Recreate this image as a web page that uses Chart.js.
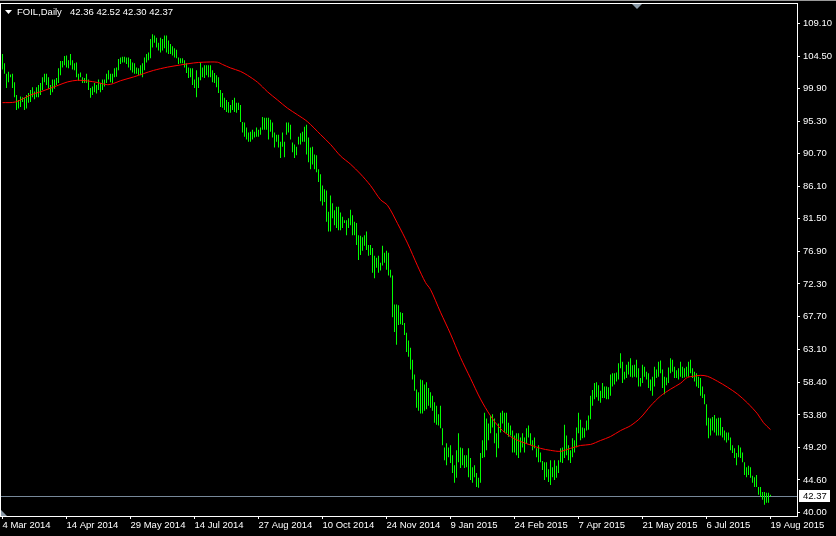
<!DOCTYPE html>
<html>
<head>
<meta charset="utf-8">
<script src="https://cdn.jsdelivr.net/npm/chart.js@4.4.1/dist/chart.umd.min.js"></script>
<style>
  html, body { margin: 0; padding: 0; background: #000; }
  #wrap { width: 836px; height: 536px; }
</style>
</head>
<body>
<div id="wrap"><canvas id="chart" width="836" height="536"></canvas></div>
<script>
// FOIL daily bars, 4 Mar 2014 .. 19 Aug 2015 (one value per trading day)
const highs = [
  104.8,103.5,102.0,102.3,101.9,102.0,100.8,99.0,98.3,98.8,98.7,98.6,99.0,99.3,99.7,100.1,
  99.5,100.1,100.4,100.7,101.5,102.0,102.0,101.5,100.4,101.2,101.2,101.4,102.8,103.8,103.8,104.5,
  104.6,103.9,104.8,103.9,103.5,103.6,102.0,102.2,101.5,101.4,102.0,101.2,100.0,100.2,100.7,100.4,
  101.2,100.7,101.2,101.2,102.0,102.5,102.0,102.0,102.8,102.9,104.1,104.3,104.4,104.4,104.3,104.3,
  104.1,103.6,103.5,102.9,102.8,103.2,103.5,104.3,104.8,105.0,106.9,107.6,107.4,107.1,106.4,107.1,
  106.9,107.4,107.4,106.7,106.2,105.9,105.6,105.4,104.3,104.2,104.2,103.9,103.5,102.9,102.8,102.8,
  101.2,102.5,101.5,103.6,102.9,103.2,103.2,103.2,103.2,102.5,102.1,101.8,101.5,99.7,99.3,98.6,
  98.3,98.0,97.6,98.3,98.6,97.9,97.9,97.6,95.2,95.1,94.4,93.7,93.8,94.1,93.8,94.4,
  94.1,94.4,95.9,95.8,95.8,95.8,95.5,95.1,93.7,93.4,93.4,92.4,93.7,92.4,95.1,95.1,
  94.8,92.3,92.0,91.7,93.1,93.6,93.8,94.5,94.8,93.0,91.6,91.7,90.6,90.5,88.5,87.8,
  86.2,85.7,85.5,82.5,84.8,83.7,82.7,83.2,83.2,82.4,81.8,81.3,81.3,81.6,82.8,82.0,
  81.1,80.9,79.2,79.1,78.9,79.2,79.7,77.8,77.8,77.4,76.3,76.0,76.3,75.3,77.7,76.7,
  77.0,76.7,74.3,73.5,69.4,69.4,69.3,68.3,68.2,66.8,65.4,64.3,63.3,61.6,59.5,57.4,
  57.0,58.8,58.7,58.1,58.4,57.6,57.0,56.5,55.6,55.1,53.9,55.1,51.9,49.2,49.8,49.2,
  49.5,48.1,46.7,48.8,51.2,49.2,49.1,48.1,48.1,49.1,47.7,46.4,46.7,45.6,44.9,48.4,
  50.2,54.1,53.3,52.6,53.7,53.9,53.3,51.2,52.6,54.1,54.4,54.1,54.1,52.7,52.3,51.6,
  50.9,51.2,51.2,50.6,51.2,50.6,51.9,52.3,51.2,50.2,50.6,49.1,49.5,48.5,47.3,47.1,
  47.1,46.1,47.4,46.4,47.4,46.6,47.4,49.1,49.2,52.4,50.9,49.5,48.8,50.5,50.2,52.0,
  54.1,53.1,52.0,51.9,53.0,53.7,56.5,57.3,58.3,58.4,58.0,57.2,58.3,57.8,57.8,57.7,
  59.5,59.7,59.7,59.8,61.1,62.5,61.3,59.9,60.9,61.3,61.8,60.8,60.9,61.6,60.4,59.0,
  60.9,60.6,59.9,59.7,58.8,59.2,60.6,60.2,61.3,61.5,60.2,59.2,59.1,60.5,61.8,61.6,
  60.6,60.1,60.4,61.3,60.6,60.4,60.6,61.3,61.6,60.4,59.9,59.7,59.2,59.0,57.8,56.7,
  55.3,53.4,53.3,53.5,53.8,53.3,53.4,53.4,52.1,51.6,51.3,51.3,50.6,49.5,49.1,48.4,
  49.5,49.2,48.5,47.1,46.4,46.6,46.4,45.2,45.0,45.3,43.6,43.6,42.9,42.9,42.8,42.8,
  42.52
];
const lows = [
  102.6,102.0,100.0,100.8,101.5,100.0,98.7,96.9,97.1,97.3,98.0,96.9,97.1,97.9,98.0,98.7,
  98.4,98.7,98.7,99.0,99.7,100.8,100.4,99.9,99.0,99.4,99.9,100.4,100.7,101.8,102.9,103.2,
  102.9,102.8,103.2,102.6,102.5,101.5,101.0,101.5,100.7,100.7,100.7,99.7,98.6,99.0,99.4,99.2,
  99.7,99.4,99.7,100.2,100.7,101.2,100.8,100.7,101.5,101.6,102.5,103.4,103.6,103.6,103.4,102.9,
  102.5,102.2,102.0,102.0,101.8,101.8,101.5,102.5,103.6,103.9,104.2,105.7,106.4,105.7,105.3,105.0,
  105.3,105.6,105.0,104.8,104.8,104.6,104.3,104.2,103.4,103.5,103.5,102.9,102.1,101.4,101.5,100.4,
  100.0,98.7,100.0,101.1,101.5,101.4,101.8,101.5,101.5,100.8,100.7,100.1,99.3,97.3,97.2,96.9,
  96.6,96.5,96.5,96.9,96.6,96.5,96.9,95.2,93.7,93.1,92.7,92.4,92.4,92.7,93.0,93.1,
  93.1,93.4,94.1,94.1,94.1,92.7,93.8,93.0,91.6,92.4,91.6,90.1,91.7,90.2,93.4,93.7,
  92.7,90.9,90.1,90.5,92.0,92.0,92.4,92.4,90.6,89.5,88.5,89.2,88.5,88.1,86.7,84.0,
  83.4,83.9,81.1,79.7,79.7,81.6,80.6,80.2,79.9,79.9,80.2,80.9,79.2,80.2,80.6,79.2,
  79.2,77.8,75.7,76.4,77.0,77.7,77.1,76.3,76.4,73.9,73.1,74.6,73.9,74.2,74.9,75.3,
  74.3,73.5,73.2,67.6,65.5,63.7,66.5,66.6,66.5,65.1,62.7,62.0,60.2,58.8,57.2,54.8,
  54.4,54.0,54.0,54.4,54.6,55.1,54.8,54.4,52.7,52.4,52.3,51.9,49.5,47.4,46.7,47.8,
  47.0,45.6,44.2,44.9,47.1,46.3,46.7,46.3,46.4,45.0,44.6,44.2,45.0,43.6,43.5,44.2,
  47.7,47.8,48.8,50.2,51.2,52.0,49.8,47.8,49.1,51.3,52.6,51.3,51.2,50.7,50.9,48.5,
  48.5,48.1,47.7,48.5,49.2,48.5,49.8,50.6,49.5,48.8,49.1,47.8,47.1,47.1,46.0,44.6,
  45.0,44.3,43.9,45.0,44.6,44.9,45.6,47.1,47.0,47.7,48.1,47.4,47.0,47.8,48.5,49.2,
  51.2,50.2,50.5,50.6,51.6,51.7,53.2,55.1,56.0,56.3,55.8,55.5,56.2,56.2,56.0,56.0,
  56.5,57.8,58.1,58.5,58.8,60.4,58.3,58.8,59.0,59.5,59.2,59.1,59.2,59.1,57.8,57.8,
  58.3,59.2,58.8,57.6,57.2,56.5,57.8,59.0,59.2,59.7,57.6,56.7,58.0,58.3,59.7,59.9,
  59.0,59.0,58.8,59.2,59.0,59.1,59.2,59.2,59.7,59.0,58.5,57.8,57.6,56.5,56.2,55.3,
  52.3,50.5,50.9,51.6,51.3,50.9,50.9,50.9,50.6,50.2,49.9,50.2,48.8,48.4,47.7,46.7,
  47.8,47.7,47.1,45.3,45.0,45.3,44.9,44.2,43.6,43.6,42.5,42.2,41.8,41.1,41.4,41.4,
  42.30
];

// red moving average, read at bar positions
const maBars = [0,6.5,14,19,24,28,32.5,37.5,42.5,47.5,52.5,55.5,59,65.5,70.5,75.5,82.5,89,95.5,
  100.5,107.5,110,114,119,122.5,127.5,132.5,137.5,142.5,147.5,152.5,159,164,169,174,179,184,189,
  192.5,197.5,202.5,207.5,211.5,214,219,224,229,234,239,244,249,254,259,264,269,274,279,284,289,
  294,299,304,309,314,319,324,329,334,339,342.5,345.5,349,352.5,357.5,362.5,367.5,372.5,377.5,380.5,384];
const maValues = [97.92,98.02,99.0,99.46,99.97,100.39,100.85,101.09,100.99,100.77,100.46,100.63,101.02,
  101.55,102.02,102.48,102.94,103.25,103.53,103.64,103.64,103.32,102.83,102.34,101.79,100.81,99.46,
  98.30,97.14,96.21,95.23,93.42,92.02,90.39,89.23,87.84,86.21,84.21,83.42,80.86,78.07,74.87,72.50,
  71.52,68.31,65.24,61.90,58.97,56.04,53.67,51.85,50.74,50.04,49.55,49.07,48.79,48.65,49.07,49.48,
  49.62,50.18,50.74,51.58,52.27,53.39,55.06,56.46,57.43,58.27,59.11,59.25,59.39,59.25,58.55,57.71,
  56.74,55.48,53.95,52.69,51.72];

const dateLabels = ['4 Mar 2014','14 Apr 2014','29 May 2014','14 Jul 2014','27 Aug 2014','10 Oct 2014',
  '24 Nov 2014','9 Jan 2015','24 Feb 2015','7 Apr 2015','21 May 2015','6 Jul 2015','19 Aug 2015'];
const dateStep = 32;
const priceTicks = [40.00,44.60,49.20,53.80,58.40,63.10,67.70,72.30,76.90,81.50,86.10,90.70,95.30,99.90,104.50,109.10];
const lastQuote = [42.36, 42.52, 42.30, 42.37]; // open high low close
const FONT = '"Liberation Sans", Arial, sans-serif';

const decor = {
  id: 'decor',
  beforeDraw(chart) {
    const ctx = chart.ctx;
    ctx.save();
    ctx.fillStyle = '#000';
    ctx.fillRect(0, 0, chart.width, chart.height);
    ctx.fillStyle = '#9a9a9a';
    ctx.fillRect(0, 0, chart.width, 1);
    ctx.restore();
  },
  beforeDatasetsDraw(chart) {
    const { ctx, chartArea, scales } = chart;
    const y = Math.round(scales.y.getPixelForValue(lastQuote[3])) + 0.5;
    ctx.save();
    ctx.strokeStyle = '#778899';
    ctx.lineWidth = 1;
    ctx.beginPath();
    ctx.moveTo(chartArea.left, y);
    ctx.lineTo(chartArea.right, y);
    ctx.stroke();
    ctx.restore();
  },
  afterDraw(chart) {
    const { ctx, chartArea, scales } = chart;
    ctx.save();
    // frame
    ctx.strokeStyle = '#fff';
    ctx.lineWidth = 1;
    ctx.strokeRect(0.5, 3.5, chartArea.right, chartArea.bottom - 3);

    // header
    ctx.fillStyle = '#fff';
    ctx.beginPath();
    ctx.moveTo(5, 10); ctx.lineTo(12, 10); ctx.lineTo(8.5, 14); ctx.closePath();
    ctx.fill();
    ctx.font = '9.5px ' + FONT;
    ctx.textBaseline = 'middle';
    ctx.fillText('FOIL,Daily', 17, 12.5);
    ctx.fillText(lastQuote.map(v => v.toFixed(2)).join(' '), 70, 12.5);

    // shift marker and corner marker
    ctx.fillStyle = '#8a99a6';
    ctx.beginPath();
    ctx.moveTo(632, 4); ctx.lineTo(642, 4); ctx.lineTo(637, 9); ctx.closePath();
    ctx.fill();
    ctx.beginPath();
    ctx.moveTo(1, 510); ctx.lineTo(1, 516); ctx.lineTo(7, 516); ctx.closePath();
    ctx.fill();

    // price label
    const y = Math.round(scales.y.getPixelForValue(lastQuote[3]));
    ctx.fillStyle = '#fff';
    ctx.fillRect(799, y - 6, 31, 12);
    ctx.fillStyle = '#000';
    ctx.fillText(lastQuote[3].toFixed(2), 803, y + 0.5);
    ctx.restore();
  }
};

new Chart(document.getElementById('chart'), {
  type: 'bar',
  data: {
    datasets: [
      {
        type: 'line',
        data: maBars.map((b, i) => ({ x: b, y: maValues[i] })),
        borderColor: '#ff0000',
        borderWidth: 1,
        pointRadius: 0,
        tension: 0.3,
        order: 1
      },
      {
        type: 'bar',
        data: highs.map((h, i) => ({ x: i, y: [lows[i], h] })),
        backgroundColor: '#00ff00',
        borderWidth: 0,
        barThickness: 1,
        inflateAmount: 0,
        order: 2
      }
    ]
  },
  options: {
    responsive: false,
    animation: false,
    events: [],
    layout: { padding: { left: 1, top: 3, right: 0, bottom: 0 } },
    plugins: { legend: { display: false }, tooltip: { enabled: false } },
    scales: {
      x: {
        type: 'linear',
        min: -0.75,
        max: 397.25,
        offset: false,
        afterFit: (s) => { s.height = 20; },
        afterBuildTicks: (s) => { s.ticks = dateLabels.map((_, i) => ({ value: i * dateStep })); },
        border: { display: false },
        grid: { drawOnChartArea: false, drawTicks: true, tickLength: 3, color: '#fff', offset: false },
        ticks: {
          color: '#fff',
          font: { family: FONT, size: 9.5 },
          align: 'start',
          padding: 1,
          maxRotation: 0,
          autoSkip: false,
          callback: (v) => dateLabels[Math.round(v / dateStep)]
        }
      },
      y: {
        type: 'linear',
        position: 'right',
        min: 39.511,
        max: 111.199,
        afterFit: (s) => { s.width = 39; },
        afterBuildTicks: (s) => { s.ticks = priceTicks.map(v => ({ value: v })); },
        border: { display: false },
        grid: { drawOnChartArea: false, drawTicks: true, tickLength: 3, color: '#fff' },
        ticks: {
          color: '#fff',
          font: { family: FONT, size: 9.5 },
          padding: 3,
          callback: (v) => Number(v).toFixed(2)
        }
      }
    }
  },
  plugins: [decor]
});
</script>
</body>
</html>
